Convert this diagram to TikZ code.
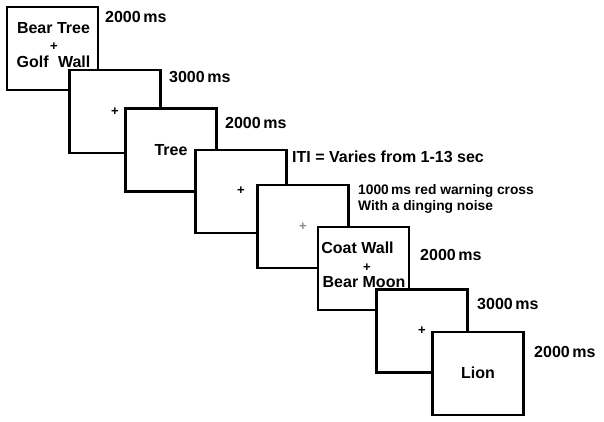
\documentclass[tikz,border=0pt]{standalone}
\usepackage{fontspec}
\setmainfont{Liberation Sans}
\begin{document}
\begin{tikzpicture}[x=1pt,y=-1pt,
  screen/.style={draw=black, fill=white, line width=2.7pt, minimum width=91pt, minimum height=83pt, inner sep=0pt},
  word/.style={font=\fontsize{16}{18}\selectfont\bfseries, inner sep=0pt},
  small/.style={font=\fontsize{13.8}{16}\selectfont\bfseries, inner sep=0pt, anchor=west},
  lab/.style={word, anchor=west},
  cross/.style={font=\fontsize{13}{13}\selectfont\bfseries, inner sep=0pt}]
\useasboundingbox (0,0) rectangle (604,422);
\fill[white] (0,0) rectangle (604,422);
% screen 1
\node[screen] (b1) at (52.5,48.5) {};
\node[word] (t1a) at (53.5,28) {Bear Tree};
\node[cross] (c1) at (54,47) {+};
\node[word] (t1b) at (53.5,62) {Golf\hspace{5pt} Wall};
\node[lab] (l1) at (105,17) {2000\,ms};
% screen 2
\node[screen] (b2) at (115,111.5) {};
\node[cross] (c2) at (115,112) {+};
\node[lab] (l2) at (169,77) {3000\,ms};
% screen 3
\node[screen] (b3) at (171,150) {};
\node[word] (t3) at (171,150) {Tree};
\node[lab] (l3) at (225,123) {2000\,ms};
% screen 4
\node[screen] (b4) at (241,191.5) {};
\node[cross] (c4) at (241,191) {+};
\node[lab] (l4) at (292,157) {ITI = Varies from 1-13 sec};
% screen 5
\node[screen] (b5) at (303,226.5) {};
\node[cross, text=black!45] (c5) at (303,227) {+};
\node[small] (l5a) at (358,191) {1000\,ms red warning cross};
\node[small] (l5b) at (358,207) {With a dinging noise};
% screen 6
\node[screen] (b6) at (363.5,268.5) {};
\node[word] (t6a) at (357.5,248) {Coat Wall};
\node[cross] (c6) at (367,268) {+};
\node[word] (t6b) at (364,282) {Bear Moon};
\node[lab] (l6) at (420,255) {2000\,ms};
% screen 7
\node[screen] (b7) at (422,331) {};
\node[cross] (c7) at (422,331) {+};
\node[lab] (l7) at (477,304) {3000\,ms};
% screen 8
\node[screen] (b8) at (478,373.5) {};
\node[word] (t8) at (478,373) {Lion};
\node[lab] (l8) at (534,352) {2000\,ms};
\end{tikzpicture}
\end{document}
